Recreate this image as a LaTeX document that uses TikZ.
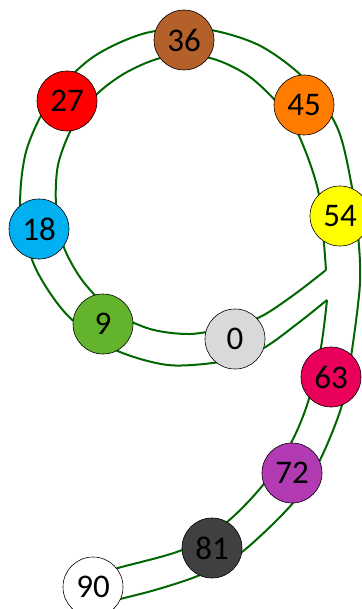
\documentclass[tikz,border=0pt]{standalone}
\usepackage{fontspec}
\setmainfont{Carlito}
\definecolor{tubegreen}{RGB}{0,102,0}
\definecolor{c36}{RGB}{180,96,42}
\definecolor{c27}{RGB}{255,0,0}
\definecolor{c45}{RGB}{255,124,0}
\definecolor{c54}{RGB}{255,255,0}
\definecolor{c18}{RGB}{0,176,240}
\definecolor{c9}{RGB}{99,180,44}
\definecolor{c0}{RGB}{217,217,217}
\definecolor{c63}{RGB}{232,0,90}
\definecolor{c72}{RGB}{178,58,178}
\definecolor{c81}{RGB}{64,64,64}
\definecolor{c90}{RGB}{255,255,255}
\begin{document}
\begin{tikzpicture}[x=1pt,y=-1pt,
  tube/.style={draw=tubegreen, line width=2pt, line join=round},
  ball/.style={circle, draw=black, line width=0.6pt, minimum size=60pt, inner sep=0pt, font=\fontsize{33}{38}\selectfont}]
\useasboundingbox (0,0) rectangle (361,609);
\coordinate (tipA) at (326,270);
\coordinate (tipB) at (327,300);
% outer boundary: tail outer side, round the head, to the lower tip
\draw[tube] plot[smooth] coordinates {(108,602) (155,590) (200,575) (242,552) (293,503) (320,460) (342,405) (352,350) (360,283) (358,234)
  (351.6,185.2) (337.6,128.3) (305.4,79.6) (258.8,45.1) (203.4,28.9) (145.8,33.0) (93.2,56.9) (51.7,97.7) (26.4,150.4) (20.4,208.8)
  (34.4,265.7) (66.6,314.4) (113.2,348.9) (168.7,365.1) (226.2,361.0) (262,349) (297,324) (tipB)};
% inner side of the tail
\draw[tube] plot[smooth] coordinates {(tipB) (321,347) (308,402) (291,443) (263,485) (227,522) (182,550) (118,568) (100,575)};
% inner boundary of the head
\draw[tube] plot[smooth] coordinates {(tipA) (323,232) (318,190) (305,150) (287,114) (250,77) (210,58) (165,57) (127,72) (96,95) (72,128) (58,165) (56,205) (63,245) (82,280) (112,311) (150,329) (190,334) (230,327) (262,316) (295,294) (tipA)};
% balls
\node[ball, fill=c36] (n36) at (184,40) {36};
\node[ball, fill=c27] (n27) at (67,101) {27};
\node[ball, fill=c45] (n45) at (304,105) {45};
\node[ball, fill=c54] (n54) at (340,216) {54};
\node[ball, fill=c18] (n18) at (39,229) {18};
\node[ball, fill=c9] (n9) at (103,324) {9};
\node[ball, fill=c0] (n0) at (235,339) {0};
\node[ball, fill=c63] (n63) at (331,377) {63};
\node[ball, fill=c72] (n72) at (292,473) {72};
\node[ball, fill=c81] (n81) at (212,548) {81};
\node[ball, fill=c90] (n90) at (93,587) {90};
\end{tikzpicture}
\end{document}
